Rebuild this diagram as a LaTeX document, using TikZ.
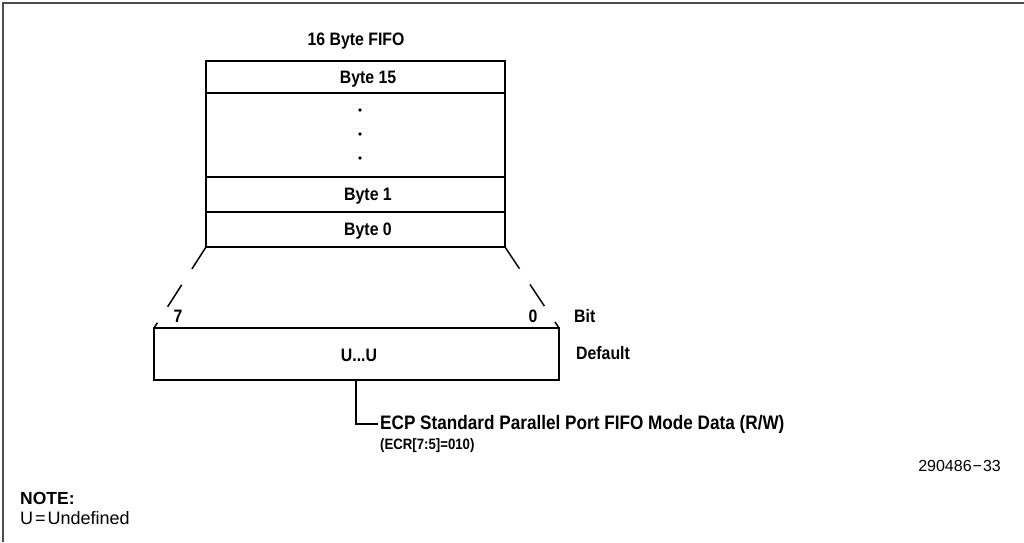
\documentclass[tikz,border=0pt]{standalone}
\usepackage{fontspec}
\setmainfont{Liberation Sans}
\newfontfamily\condfont[FakeStretch=0.88]{Liberation Sans}
\begin{document}
\begin{tikzpicture}[x=1pt,y=-1pt,
  box/.style={draw=black,line width=1.5pt},
  lbl/.style={font=\condfont\fontsize{18}{20}\selectfont\bfseries,inner sep=0pt},
  fanline/.style={draw=black,line width=1.5pt,dash pattern=on 26pt off 19pt},
  frame/.style={draw=black!70,line width=1.5pt}]
\useasboundingbox (0,0) rectangle (1024,542);
% page frame (top and left rules)
\draw[frame] (2,3) -- (1024,3);
\draw[frame] (3,3) -- (3,542);

% FIFO stack
\node[lbl] (title) at (356,41) {16 Byte FIFO};
\coordinate (ftl) at (206,61);
\coordinate (fbr) at (505,247);
\draw[box] (ftl) rectangle (fbr);
\draw[box] (206,93) -- (505,93);
\draw[box] (206,177) -- (505,177);
\draw[box] (206,212) -- (505,212);
\node[lbl] (b15) at (368,79) {Byte 15};
\node[lbl] (b1) at (368,196) {Byte 1};
\node[lbl] (b0) at (368,231) {Byte 0};
\foreach \yy/\nm in {110/d1,134/d2,158/d3}
  \fill (360,\yy) circle (1.8pt) coordinate (\nm);

% fan-out to register
\coordinate (fbl) at (206,247);
\coordinate (rtl) at (154,328);
\coordinate (rtr) at (559,328);
\coordinate (rbr) at (559,380);
\draw[fanline] (fbl) -- (rtl);
\draw[fanline] (fbr) -- (rtr);

% register
\draw[box] (rtl) rectangle (rbr);
\node[lbl] (uu) at (359,355) {U...U};
\node[lbl] (b7) at (178,316) {7};
\node[lbl] (b00) at (533,316) {0};
\node[lbl,anchor=west] (bit) at (574,316) {Bit};
\node[lbl,anchor=west] (dflt) at (576,353) {Default};

% register description
\coordinate (tap) at (356,380);
\node[anchor=west,inner sep=0pt,font=\condfont\fontsize{19.5}{21}\selectfont\bfseries] (desc) at (380,424)
  {ECP Standard Parallel Port FIFO Mode Data (R/W)};
\node[anchor=west,inner sep=0pt,font=\condfont\fontsize{15}{17}\selectfont\bfseries] (ecr) at (380,446)
  {(ECR[7:5]=010)};
\draw[box] (tap) |- ([xshift=-2pt]desc.west);

\node[anchor=east,inner sep=0pt,font=\fontsize{16}{18}\selectfont] (fig) at (1001,466) {290486\kern1pt\textminus\kern1pt33};

% note
\node[anchor=west,inner sep=0pt,font=\fontsize{17.5}{20}\selectfont\bfseries] (note) at (20,498) {NOTE:};
\node[anchor=west,inner sep=0pt,font=\fontsize{18}{20}\selectfont] (undef) at (20,518) {U\kern2pt=\kern2pt Undefined};
\end{tikzpicture}
\end{document}
